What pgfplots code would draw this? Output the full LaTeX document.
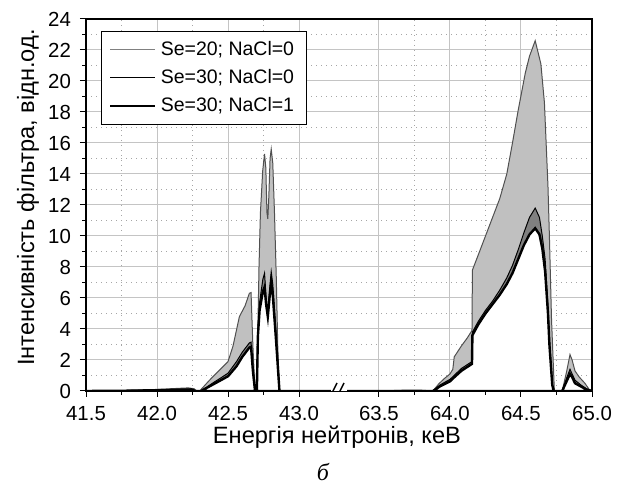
\documentclass[border=0pt]{standalone}
\usepackage{pgfplots}
\usepackage{pgfplotstable}
\pgfplotsset{compat=1.18}
\usepackage{fontspec}
\setmainfont{Liberation Sans}
\newfontfamily\serifit{Liberation Serif}
\definecolor{fillA}{HTML}{C0C0C0}
\definecolor{fillB}{HTML}{808080}
\definecolor{lineA}{HTML}{505050}
\definecolor{gridc}{HTML}{C4C4C4}
\pgfplotsset{
  layers/mylayers/.define layer set={axis background,axis grid,main,axis ticks,axis lines,axis tick labels,axis descriptions,axis foreground}{},
}
% Se=20; NaCl=0
\pgfplotstableread{
x y
41.50 0.00
41.75 0.02
41.85 0.06
42.00 0.10
42.15 0.17
42.22 0.20
42.26 0.15
42.28 0.00
42.30 0.00
42.37 0.70
42.44 1.35
42.50 1.90
42.535 2.90
42.58 4.80
42.62 5.50
42.65 6.30
42.662 6.35
42.675 2.90
42.69 0.00
42.703 0.00
42.710 4.00
42.718 8.00
42.728 11.50
42.744 14.20
42.757 15.30
42.766 14.40
42.774 11.50
42.780 11.10
42.787 12.50
42.796 15.00
42.804 15.60
42.815 14.70
42.827 11.50
42.840 7.20
42.850 2.90
42.862 0.00
43.00 0.00
63.50 0.00
63.60 0.03
63.70 0.06
63.80 0.05
63.85 0.02
63.88 0.00
63.92 0.45
63.96 0.80
64.00 1.10
64.02 1.40
64.03 2.20
64.08 2.90
64.12 3.40
64.155 3.90
64.158 7.80
64.20 8.80
64.25 10.00
64.30 11.20
64.35 12.40
64.40 14.00
64.44 16.00
64.48 18.10
64.53 20.50
64.56 21.60
64.60 22.60
64.64 21.10
64.665 18.60
64.69 13.20
64.70 10.00
64.715 4.60
64.735 0.00
64.79 0.00
64.82 1.20
64.845 2.35
64.86 2.00
64.88 1.30
64.91 0.90
64.95 0.50
64.98 0.10
65.00 0.00
}\seA
% Se=30; NaCl=0
\pgfplotstableread{
x y
41.50 0.00
41.80 0.03
42.00 0.06
42.15 0.10
42.24 0.12
42.27 0.00
42.31 0.00
42.39 0.50
42.45 0.85
42.50 1.15
42.56 1.90
42.60 2.50
42.65 3.10
42.662 3.15
42.675 1.50
42.69 0.00
42.703 0.00
42.710 3.90
42.722 5.70
42.745 7.20
42.757 7.60
42.768 6.00
42.780 5.00
42.792 6.50
42.804 7.70
42.815 6.90
42.840 3.50
42.862 0.00
43.00 0.00
63.50 0.00
63.88 0.00
63.93 0.39
64.00 0.75
64.02 0.92
64.08 1.45
64.155 1.90
64.158 3.80
64.20 4.50
64.25 5.20
64.30 5.80
64.35 6.50
64.40 7.30
64.44 8.10
64.48 9.10
64.52 10.20
64.56 11.20
64.60 11.80
64.63 11.20
64.65 10.00
64.67 8.50
64.69 5.50
64.70 3.50
64.72 0.50
64.73 0.00
64.79 0.00
64.82 0.80
64.845 1.40
64.86 1.10
64.88 0.70
64.92 0.40
64.96 0.15
65.00 0.00
}\seB
% Se=30; NaCl=1
\pgfplotstableread{
x y
41.50 0.00
41.80 0.02
42.00 0.05
42.15 0.08
42.24 0.10
42.27 0.00
42.31 0.00
42.39 0.40
42.45 0.70
42.50 0.95
42.56 1.60
42.60 2.20
42.65 2.80
42.662 2.85
42.675 1.30
42.69 0.00
42.703 0.00
42.710 3.50
42.722 5.20
42.745 6.40
42.757 6.70
42.768 5.60
42.780 4.80
42.792 6.00
42.804 7.00
42.815 6.20
42.840 3.00
42.862 0.00
43.00 0.00
63.50 0.00
63.88 0.00
63.93 0.30
64.00 0.62
64.02 0.80
64.08 1.30
64.155 1.75
64.158 3.60
64.20 4.30
64.25 5.00
64.30 5.60
64.35 6.20
64.40 6.90
64.44 7.60
64.48 8.50
64.52 9.40
64.56 10.10
64.60 10.50
64.63 10.10
64.65 9.20
64.67 7.70
64.69 5.00
64.70 3.00
64.72 0.40
64.73 0.00
64.79 0.00
64.82 0.60
64.845 1.10
64.86 0.90
64.88 0.50
64.92 0.30
64.96 0.10
65.00 0.00
}\seC
\begin{document}
\begin{tikzpicture}
\begin{axis}[
  set layers=mylayers,
  at={(0,0)}, anchor=south west,
  scale only axis, width=253pt, height=186pt,
  xmin=41.5, xmax=45.0625, ymin=0, ymax=24,
  xtick={41.5,42,42.5,43,43.5625,44.0625,44.5625,45.0625},
  xticklabels={41.5,42.0,42.5,43.0,63.5,64.0,64.5,65.0},
  minor xtick={41.75,42.25,42.75,43.8125,44.3125,44.8125},
  ytick={0,2,...,24},
  minor ytick={1,3,...,23},
  tick pos=left,
  tick align=outside,
  major tick length=3pt,
  minor tick length=2pt,
  every tick/.style={black, line width=0.5pt},
  axis line style={black, line width=0.6pt},
  grid=both,
  major grid style={gridc, line width=0.5pt},
  minor grid style={gray!70, line width=0.5pt, dotted},
  /pgf/number format/assume math mode=true,
  tick label style={font=\fontsize{10.2}{12}\selectfont, black},
  xticklabel style={yshift=-1pt},
  yticklabel style={xshift=-1pt},
  xlabel={Енергія нейтронів, кеВ},
  ylabel={Інтенсивність фільтра, відн.од.},
  label style={font=\fontsize{11.8}{14}\selectfont},
  xlabel style={at={(axis description cs:0.496,-0.1237)}, anchor=center},
  ylabel style={at={(axis description cs:-0.1146,0.52)}, anchor=center},
  legend cell align=left,
  legend style={at={(axis description cs:0.029,0.9685)}, anchor=north west,
    draw=black, line width=0.5pt, fill=white, font=\fontsize{9.75}{11}\selectfont,
    inner xsep=4pt, inner ysep=3pt, row sep=1.5pt},
  legend image code/.code={\draw[#1] (2pt,0pt) -- (24.5pt,0pt);},
]
\addplot[fill=fillA, draw=lineA, line width=0.5pt, forget plot]
  table[x expr={ifthenelse(\thisrow{x}>50,\thisrow{x}-19.9375,\thisrow{x})}, y=y] {\seA} \closedcycle;
\addplot[fill=fillB, draw=black, line width=0.5pt, forget plot]
  table[x expr={ifthenelse(\thisrow{x}>50,\thisrow{x}-19.9375,\thisrow{x})}, y=y] {\seB} \closedcycle;
\addplot[fill=white, draw=black, line width=1.2pt, forget plot]
  table[x expr={ifthenelse(\thisrow{x}>50,\thisrow{x}-19.9375,\thisrow{x})}, y=y] {\seC} \closedcycle;
\addlegendimage{color=gray, line width=0.6pt}
\addlegendentry{Se=20; NaCl=0}
\addlegendimage{color=black, line width=0.6pt}
\addlegendentry{Se=30; NaCl=0}
\addlegendimage{color=black, line width=1.3pt}
\addlegendentry{Se=30; NaCl=1}
% axis break marks
\fill[on layer=axis foreground, white] ([xshift=-4pt,yshift=-1.2pt]axis cs:43.28125,0) rectangle ([xshift=4pt,yshift=1.2pt]axis cs:43.28125,0);
\draw[on layer=axis foreground, black, line width=0.7pt] ([xshift=-5pt,yshift=-4pt]axis cs:43.28125,0) -- ([xshift=-1pt,yshift=4pt]axis cs:43.28125,0);
\draw[on layer=axis foreground, black, line width=0.7pt] ([xshift=-1.5pt,yshift=-4pt]axis cs:43.28125,0) -- ([xshift=2.5pt,yshift=4pt]axis cs:43.28125,0);
\end{axis}
\node[font=\serifit\itshape\fontsize{12}{14}\selectfont] at (118.4pt,-40.5pt) {б};
\pgfresetboundingbox
\useasboundingbox (-43pt,-49.5pt) rectangle (266.5pt,195.5pt);
\end{tikzpicture}
\end{document}
